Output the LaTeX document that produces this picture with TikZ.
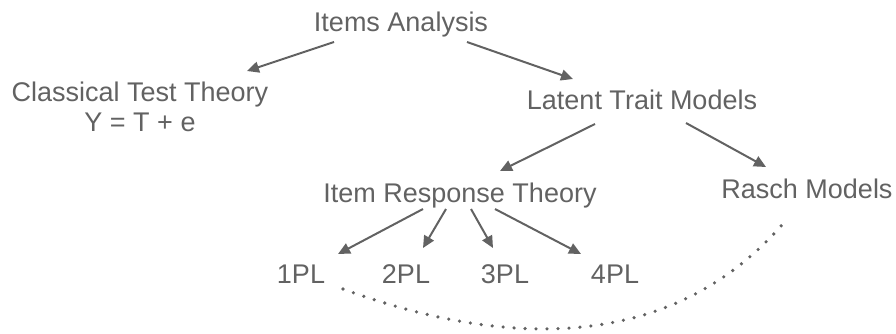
\documentclass[tikz,border=0pt]{standalone}
\usepackage{fontspec}
\setmainfont{Liberation Sans}
\usetikzlibrary{arrows.meta,calc}
\definecolor{ink}{RGB}{98,98,98}
\tikzset{
  lbl/.style={anchor=base, inner sep=0pt, text=ink, font=\fontsize{27}{30}\selectfont},
  arr/.style={draw=ink, line width=2pt, -{Triangle[length=12pt,width=11pt]}},
  dotted link/.style={draw=ink, line width=3.6pt, line cap=round, dash pattern=on 0pt off 11pt}
}
\begin{document}
\begin{tikzpicture}[x=1pt, y=-1pt]
  \useasboundingbox (0,0) rectangle (896,333);

  % nodes (positions are baselines; two-line node uses its last line)
  \node[lbl] (ia)    at (401,31)  {Items Analysis};
  \node[lbl, align=center] (ctt) at (140,131) {Classical Test Theory\\Y = T + e};
  \node[lbl] (ltm)   at (642,109) {Latent Trait Models};
  \node[lbl] (irt)   at (460,202) {Item Response Theory};
  \node[lbl] (rasch) at (807,198) {Rasch Models};
  \node[lbl] (p1)    at (301,283) {1PL};
  \node[lbl] (p2)    at (406,283) {2PL};
  \node[lbl] (p3)    at (505,283) {3PL};
  \node[lbl] (p4)    at (615,283) {4PL};

  % hierarchy arrows
  \draw[arr] ($(ia.base)+(-67,11)$)  -- ($(ctt.base)+(107,-60)$);
  \draw[arr] ($(ia.base)+(66,11)$)   -- ($(ltm.base)+(-69,-30)$);
  \draw[arr] ($(ltm.base)+(-47,15)$) -- ($(irt.base)+(40,-31)$);
  \draw[arr] ($(ltm.base)+(44,14)$)  -- ($(rasch.base)+(-41,-31)$);
  \draw[arr] ($(irt.base)+(-37,7)$)  -- ($(p1.base)+(37,-29)$);
  \draw[arr] ($(irt.base)+(-14,7)$)  -- ($(p2.base)+(17,-35)$);
  \draw[arr] ($(irt.base)+(11,7)$)   -- ($(p3.base)+(-12,-35)$);
  \draw[arr] ($(irt.base)+(35,7)$)   -- ($(p4.base)+(-34,-29)$);

  % dotted link between 1PL and Rasch Models
  \draw[dotted link] ($(p1.base)+(42,6)$)
    .. controls ($(p1.base)+(206,66)$) and ($(rasch.base)+(-132,155)$)
    .. ($(rasch.base)+(-20,21)$);
\end{tikzpicture}
\end{document}
